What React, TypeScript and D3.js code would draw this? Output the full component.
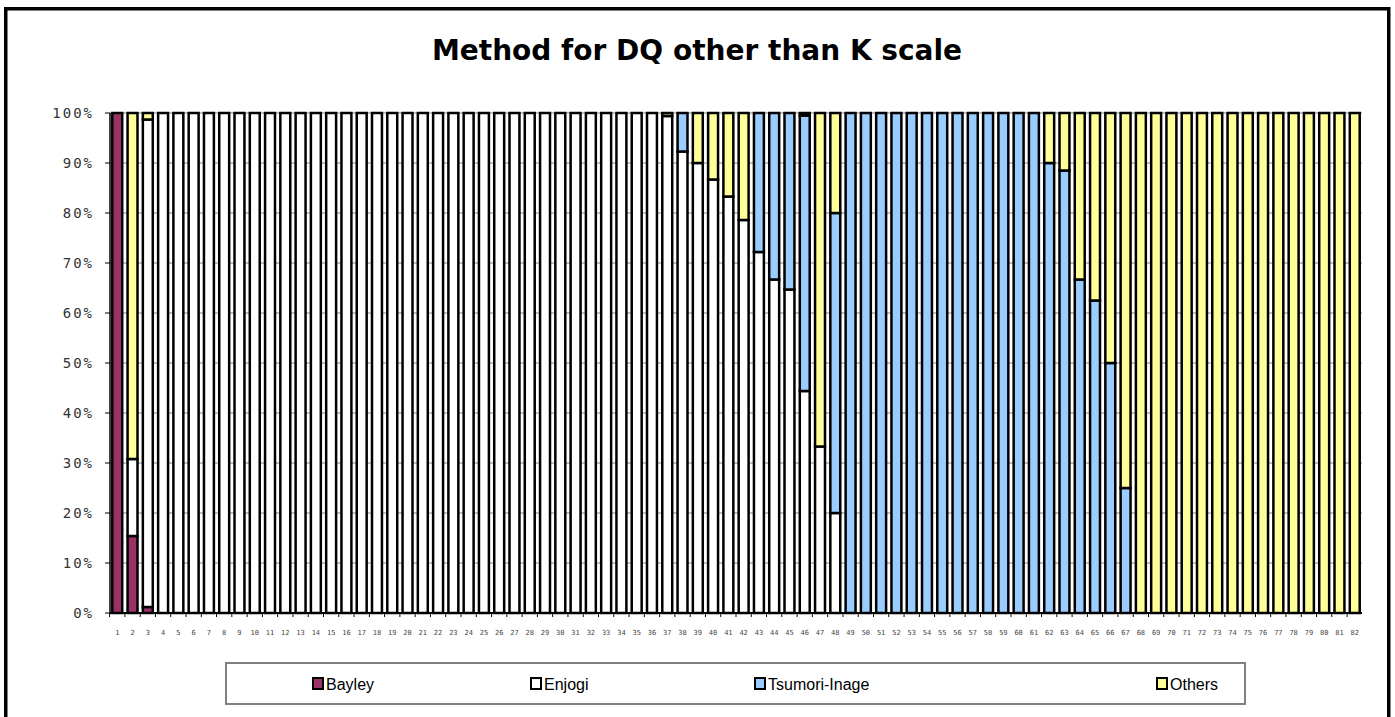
import { useEffect } from 'react';
import * as d3 from 'd3';

const categories = Array.from({ length: 82 }, (_, i) => String(i + 1));

const bayley = [
  100, 15.4, 1.2, 0, 0, 0, 0, 0, 0, 0,
  0, 0, 0, 0, 0, 0, 0, 0, 0, 0,
  0, 0, 0, 0, 0, 0, 0, 0, 0, 0,
  0, 0, 0, 0, 0, 0, 0, 0, 0, 0,
  0, 0, 0, 0, 0, 0, 0, 0, 0, 0,
  0, 0, 0, 0, 0, 0, 0, 0, 0, 0,
  0, 0, 0, 0, 0, 0, 0, 0, 0, 0,
  0, 0, 0, 0, 0, 0, 0, 0, 0, 0,
  0, 0,
];

const enjogi = [
  0, 15.4, 97.5, 100, 100, 100, 100, 100, 100, 100,
  100, 100, 100, 100, 100, 100, 100, 100, 100, 100,
  100, 100, 100, 100, 100, 100, 100, 100, 100, 100,
  100, 100, 100, 100, 100, 100, 99.4, 92.3, 90, 86.7,
  83.3, 78.6, 72.2, 66.7, 64.7, 44.4, 33.3, 20, 0, 0,
  0, 0, 0, 0, 0, 0, 0, 0, 0, 0,
  0, 0, 0, 0, 0, 0, 0, 0, 0, 0,
  0, 0, 0, 0, 0, 0, 0, 0, 0, 0,
  0, 0,
];

const tsumori = [
  0, 0, 0, 0, 0, 0, 0, 0, 0, 0,
  0, 0, 0, 0, 0, 0, 0, 0, 0, 0,
  0, 0, 0, 0, 0, 0, 0, 0, 0, 0,
  0, 0, 0, 0, 0, 0, 0, 7.7, 0, 0,
  0, 0, 27.8, 33.3, 35.3, 55.1, 0, 60, 100, 100,
  100, 100, 100, 100, 100, 100, 100, 100, 100, 100,
  100, 90, 88.5, 66.7, 62.5, 50, 25, 0, 0, 0,
  0, 0, 0, 0, 0, 0, 0, 0, 0, 0,
  0, 0,
];

const others = [
  0, 69.2, 1.3, 0, 0, 0, 0, 0, 0, 0,
  0, 0, 0, 0, 0, 0, 0, 0, 0, 0,
  0, 0, 0, 0, 0, 0, 0, 0, 0, 0,
  0, 0, 0, 0, 0, 0, 0.6, 0, 10, 13.3,
  16.7, 21.4, 0, 0, 0, 0.5, 66.7, 20, 0, 0,
  0, 0, 0, 0, 0, 0, 0, 0, 0, 0,
  0, 10, 11.5, 33.3, 37.5, 50, 75, 100, 100, 100,
  100, 100, 100, 100, 100, 100, 100, 100, 100, 100,
  100, 100,
];

const seriesNames = ['Bayley', 'Enjogi', 'Tsumori-Inage', 'Others'];
const seriesColors = ['#993366', '#FFFFFF', '#99CCFF', '#FFFF99'];
const yTicks = [0, 0.1, 0.2, 0.3, 0.4, 0.5, 0.6, 0.7, 0.8, 0.9, 1];

// legend swatch x positions
const legendX = [313, 531, 755, 1157];

const W = 1395;
const H = 717;
const plot = { left: 110, right: 1362, top: 113, bottom: 613 };

export default function App() {
  useEffect(() => {
    document.body.style.margin = '0';
  }, []);

  const rows = categories.map((c, i) => ({
    cat: c,
    Bayley: bayley[i],
    Enjogi: enjogi[i],
    'Tsumori-Inage': tsumori[i],
    Others: others[i],
  }));

  const stacked = d3.stack<any>()
    .keys(seriesNames)
    .offset(d3.stackOffsetExpand)(rows);

  const x = d3.scaleBand()
    .domain(categories)
    .range([plot.left, plot.right])
    .paddingInner(0.35)
    .paddingOuter(0.15);

  const y = d3.scaleLinear().domain([0, 1]).range([plot.bottom, plot.top]);

  return (
    <svg width={W} height={H} style={{ display: 'block', background: '#fff' }}>
      {/* outer frame */}
      <rect x={5.75} y={8.75} width={1383} height={740} fill="#fff" stroke="#000" strokeWidth={3.5} />

      <text x={697} y={60} textAnchor="middle" fontFamily="DejaVu Sans, Verdana, sans-serif"
        fontWeight="bold" fontSize={28}>Method for DQ other than K scale</text>

      {/* gridlines */}
      {yTicks.map(t => (
        <line key={'g' + t} x1={plot.left} x2={plot.right} y1={y(t)} y2={y(t)} stroke="#808080" strokeWidth={1} />
      ))}

      {/* bars */}
      {stacked.map((s, si) => (
        <g key={s.key} fill={seriesColors[si]} stroke="#000" strokeWidth={2.5}>
          {s.map((d, i) => (d[1] - d[0] > 0 ? (
            <rect key={i} x={x(categories[i])} y={y(d[1])} width={x.bandwidth()}
              height={y(d[0]) - y(d[1])} />
          ) : null))}
        </g>
      ))}

      {/* axes */}
      <line x1={plot.left} x2={plot.left} y1={plot.top} y2={plot.bottom} stroke="#000" strokeWidth={1.5} />
      <line x1={plot.left} x2={plot.right} y1={plot.bottom} y2={plot.bottom} stroke="#000" strokeWidth={2} />
      {yTicks.map(t => (
        <g key={'t' + t}>
          <line x1={plot.left - 5} x2={plot.left} y1={y(t)} y2={y(t)} stroke="#000" />
          <text x={94} y={y(t) + 5} textAnchor="end" fontFamily="DejaVu Sans Mono, monospace"
            fontSize={14} letterSpacing={2} fill="#333">{Math.round(t * 100) + '%'}</text>
        </g>
      ))}
      {categories.map(c => (
        <g key={'x' + c}>
          <line x1={x(c)! - x.step() * 0.175} x2={x(c)! - x.step() * 0.175} y1={plot.bottom} y2={plot.bottom + 4} stroke="#000" />
          <text x={x(c)! + x.bandwidth() / 2} y={635} textAnchor="middle"
            fontFamily="DejaVu Sans Mono, monospace" fontSize={7} fill="#444">{c}</text>
        </g>
      ))}

      {/* legend */}
      <rect x={226} y={663} width={1019} height={41} fill="#fff" stroke="#808080" strokeWidth={2} />
      {seriesNames.map((n, i) => (
        <g key={'l' + n}>
          <rect x={legendX[i]} y={678} width={10} height={11} fill={seriesColors[i]} stroke="#000" strokeWidth={2} />
          <text x={legendX[i] + 13} y={690} fontFamily="Liberation Sans, Arial, sans-serif" fontSize={16}>{n}</text>
        </g>
      ))}
    </svg>
  );
}
